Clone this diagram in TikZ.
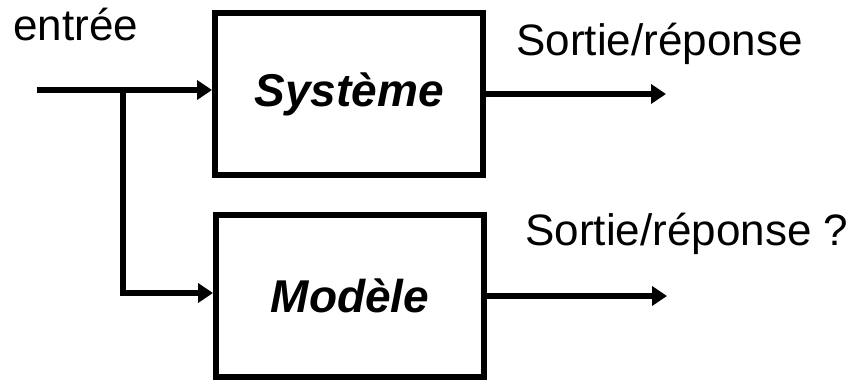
\documentclass[tikz,border=0pt]{standalone}
\usepackage{fontspec}
\setmainfont{Liberation Sans}
\usetikzlibrary{arrows.meta}

\tikzset{
  bloc/.style={draw, line width=3pt, minimum width=134pt, minimum height=81pt,
    font=\fontsize{23pt}{27pt}\selectfont\bfseries\itshape},
  etiq/.style={inner sep=0pt, anchor=base west, font=\fontsize{22pt}{26pt}\selectfont},
  lien/.style={line width=3pt, -{Triangle[length=7.5pt,width=9.5pt]}},
}

\begin{document}
\begin{tikzpicture}[x=0.5pt,y=-0.5pt]
\useasboundingbox (0,0) rectangle (860,380);

\node[bloc] (sys) at (349,94) {Système};
\node[bloc] (mod) at (350,296) {Modèle};

\node[etiq] (lbl-in) at (13,40) {entrée};
\node[etiq] (lbl-s1) at (516,55) {Sortie/réponse};
\node[etiq] (lbl-s2) at (525,245) {Sortie/réponse ?};

\coordinate (in) at (37,90);
\coordinate (branche) at (123,90);
\coordinate (coin) at (123,293);
\coordinate (out1) at (666,94);
\coordinate (out2) at (667,296);

% entree vers le systeme et vers le modele
\draw[lien] (in) -- (in -| sys.west);
\draw[lien, line join=miter] (branche) -- (coin) -- (coin -| mod.west);

% sorties
\draw[lien] (sys.east) -- (out1);
\draw[lien] (mod.east) -- (out2);
\end{tikzpicture}
\end{document}
